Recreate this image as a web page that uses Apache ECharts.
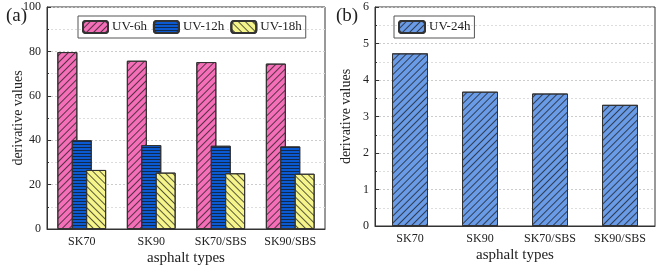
<!DOCTYPE html>
<html>
<head>
<meta charset="utf-8">
<script src="https://cdn.jsdelivr.net/npm/echarts@6/dist/echarts.min.js"></script>
<style>
  html, body { margin: 0; padding: 0; background: #fff; }
  #chart { width: 660px; height: 266px; }
</style>
</head>
<body>
<div id="chart"></div>
<script>
// 数据
const categories = ['SK70', 'SK90', 'SK70/SBS', 'SK90/SBS']
const uv6h = [79.7, 75.8, 75.2, 74.5]
const uv12h = [40.0, 37.8, 37.5, 37.2]
const uv18h = [26.6, 25.4, 25.1, 24.9]
const uv24h = [4.73, 3.68, 3.63, 3.32]

const font = 'Liberation Serif'
const hatch = (rot, gapY) => ({
  symbol: 'rect',
  symbolSize: 1,
  color: 'rgba(20,20,20,0.7)',
  dashArrayX: [1, 0],
  dashArrayY: [1, gapY],
  rotation: rot
})

const yAxisBase = (gridIndex, max, interval) => ({
  type: 'value',
  gridIndex: gridIndex,
  min: 0,
  max: max,
  interval: interval,
  name: 'derivative values',
  nameLocation: 'middle',
  nameGap: 22,
  nameMoveOverlap: false,
  nameTextStyle: { fontFamily: font, fontSize: 14, color: '#222' },
  axisLine: { show: true, lineStyle: { color: '#333', width: 1 } },
  axisTick: { show: true, inside: true, length: 4, lineStyle: { color: '#333' } },
  minorTick: { show: true, splitNumber: 2, length: 2, lineStyle: { color: '#333' } },
  axisLabel: { fontFamily: font, fontSize: 12, color: '#222', margin: 6 },
  splitLine: { show: true, lineStyle: { color: '#ccc', type: [2, 2] } },
  minorSplitLine: { show: true, lineStyle: { color: '#ddd', type: [2, 2] } }
})

const xAxisBase = (gridIndex) => ({
  type: 'category',
  gridIndex: gridIndex,
  data: categories,
  name: 'asphalt types',
  nameLocation: 'middle',
  nameGap: 22,
  nameMoveOverlap: false,
  nameTextStyle: { fontFamily: font, fontSize: 15, color: '#222' },
  axisLine: { lineStyle: { color: '#333', width: 1 } },
  axisTick: { alignWithLabel: true, length: 4, lineStyle: { color: '#333' } },
  axisLabel: { interval: 0, fontFamily: font, fontSize: 12, color: '#222', margin: 7 }
})

// 类别边界的内刻度
const xAxisInner = (gridIndex) => ({
  type: 'category',
  gridIndex: gridIndex,
  data: categories,
  position: 'bottom',
  axisLine: { show: false },
  axisTick: { interval: 0, inside: true, length: 3, lineStyle: { color: '#333' } },
  axisLabel: { show: false }
})

const option = {
  animation: false,
  textStyle: { fontFamily: font },
  title: [
    { text: '(a)', left: 1, top: 2, textStyle: { fontFamily: font, fontSize: 19, fontWeight: 'normal', color: '#222' } },
    { text: '(b)', left: 331, top: 2, textStyle: { fontFamily: font, fontSize: 19, fontWeight: 'normal', color: '#222' } }
  ],
  grid: [
    { left: 47, right: 335, top: 7, bottom: 37, outerBoundsMode: 'none', containLabel: false, show: true, borderColor: '#333', borderWidth: 1 },
    { left: 375, right: 5, top: 7, bottom: 40, outerBoundsMode: 'none', containLabel: false, show: true, borderColor: '#333', borderWidth: 1 }
  ],
  legend: [
    {
      data: ['UV-6h', 'UV-12h', 'UV-18h'],
      left: 78, top: 16,
      itemWidth: 25, itemHeight: 12, itemGap: 6,
      padding: [4, 4],
      borderColor: '#555', borderWidth: 1,
      textStyle: { fontFamily: font, fontSize: 13, color: '#222', padding: [0, 0, 0, -1] }
    },
    {
      data: ['UV-24h'],
      left: 394, top: 16,
      itemWidth: 26, itemHeight: 12,
      padding: [4, 4],
      borderColor: '#555', borderWidth: 1,
      textStyle: { fontFamily: font, fontSize: 13, color: '#222', padding: [0, 0, 0, -1] }
    }
  ],
  xAxis: [xAxisBase(0), xAxisInner(0), xAxisBase(1), xAxisInner(1)],
  yAxis: [yAxisBase(0, 100, 20), yAxisBase(1, 6, 1)],
  series: [
    {
      name: 'UV-6h', type: 'bar', xAxisIndex: 0, yAxisIndex: 0,
      data: uv6h, barWidth: 20, barGap: '-28%',
      itemStyle: { color: '#f46fb8', borderColor: '#333', borderWidth: 1, decal: hatch(-Math.PI / 4, 4) }
    },
    {
      name: 'UV-12h', type: 'bar', xAxisIndex: 0, yAxisIndex: 0,
      data: uv12h, barWidth: 20, barGap: '-28%',
      itemStyle: { color: '#0b5ad2', borderColor: '#333', borderWidth: 1, decal: hatch(0, 2) }
    },
    {
      name: 'UV-18h', type: 'bar', xAxisIndex: 0, yAxisIndex: 0,
      data: uv18h, barWidth: 20, barGap: '-28%',
      itemStyle: { color: '#f6f58c', borderColor: '#333', borderWidth: 1, decal: hatch(Math.PI / 4, 4) }
    },
    {
      name: 'UV-24h', type: 'bar', xAxisIndex: 2, yAxisIndex: 1,
      data: uv24h, barWidth: 36,
      itemStyle: { color: '#6a9be6', borderColor: '#333', borderWidth: 1, decal: hatch(-Math.PI / 4, 4) }
    }
  ]
}

const chart = echarts.init(document.getElementById('chart'))
chart.setOption(option)
</script>
</body>
</html>
